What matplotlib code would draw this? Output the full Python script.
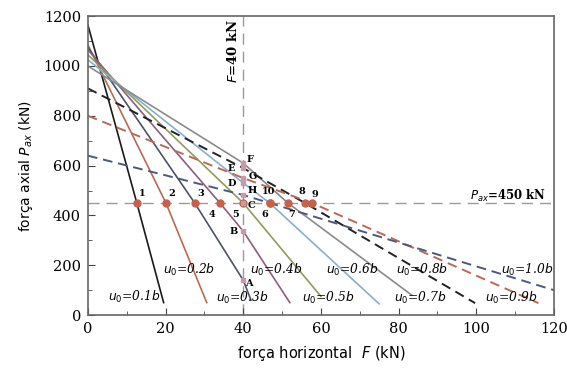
import matplotlib
matplotlib.use("Agg")
import matplotlib.pyplot as plt
from matplotlib.ticker import MultipleLocator

# curves (F in kN, P_ax in kN)
labels = ["0.1b", "0.2b", "0.3b", "0.4b", "0.5b", "0.6b", "0.7b", "0.8b", "0.9b", "1.0b"]
curve_F = [
    [0, 12.6, 19.5],
    [0, 20.1, 30.6],
    [0, 27.5, 40, 42],
    [0, 34, 40, 52],
    [0, 40, 60],
    [0, 40, 46.8, 75],
    [0, 40, 51.5, 83.4],
    [0, 40, 55.9, 99.7],
    [0, 40, 57.7, 116],
    [0, 40, 46.8, 120],
]
curve_P = [
    [1165, 450, 50],
    [1085, 450, 50],
    [1075, 450, 140, 60],
    [1065, 450, 337, 50],
    [1045, 450, 75],
    [1025, 530, 450, 45],
    [1000, 610, 450, 80],
    [910, 590, 450, 48],
    [800, 550, 450, 48],
    [640, 482, 450, 100],
]
colors = ["#1a1a1a", "#b86a52", "#4c5268", "#8c5f7c", "#8e9c5c",
          "#86b0cc", "#8a8a8a", "#222222", "#b86a52", "#4e587a"]
dashed = [False] * 7 + [True] * 3

# u0 label positions
lab_F = [12, 26, 39.7, 48.6, 62, 68, 85.5, 86, 109, 113]
lab_P = [72, 180, 68, 180, 68, 180, 68, 180, 68, 180]

# points on P_ax = 450
pt_names = ["1", "2", "3", "4", "5", "6", "7", "8", "9", "10"]
pt_F = [12.6, 20.1, 27.5, 34, 40, 46.8, 51.5, 55.9, 57.7, 46.8]
pt_lab_F = [14.0, 21.5, 29.0, 32.0, 38.0, 45.5, 52.5, 55.0, 58.5, 46.5]
pt_lab_P = [490, 490, 490, 405, 405, 405, 405, 495, 485, 495]

# points on F = 40
let_names = ["A", "B", "C", "D", "E", "F", "G", "H"]
let_P = [140, 337, 450, 530, 590, 610, 550, 482]
let_lab_F = [41.5, 37.5, 42.0, 37.0, 37.0, 41.8, 42.5, 42.3]
let_lab_P = [125, 335, 440, 530, 590, 625, 558, 500]

F_ref = 40
P_ref = 450

fig = plt.figure(figsize=(5.67, 3.76), dpi=100)
ax = fig.add_axes([0.155, 0.162, 0.822, 0.795])

ax.axvline(F_ref, color="#9a9a9a", lw=1.0, ls=(0, (8, 5)), zorder=1)
ax.axhline(P_ref, color="#9a9a9a", lw=1.0, ls=(0, (8, 5)), zorder=1)

for i in range(len(labels)):
    ls = (0, (5, 3)) if dashed[i] else "-"
    lw = 1.4 if dashed[i] else 1.2
    ax.plot(curve_F[i], curve_P[i], color=colors[i], lw=lw, ls=ls, zorder=2)
    ax.text(lab_F[i], lab_P[i], "$u_0$=" + labels[i][:3] + "$b$", fontsize=8.8,
            family="DejaVu Serif", style="italic", ha="center", va="center", zorder=4)

ax.plot(pt_F, [P_ref] * len(pt_F), "o", color="#c8604a", ms=5, zorder=3)
for name, x, y in zip(pt_names, pt_lab_F, pt_lab_P):
    ax.text(x, y, name, fontsize=7, family="DejaVu Serif", fontweight="bold",
            ha="center", va="center", zorder=4)

ax.plot([F_ref] * len(let_P), let_P, "s", color="#c89aa8", ms=3, zorder=3)
for name, x, y in zip(let_names, let_lab_F, let_lab_P):
    ax.text(x, y, name, fontsize=7, family="DejaVu Serif", fontweight="bold",
            ha="center", va="center", zorder=4)

ax.text(37.3, 1060, "$F$=40 kN", rotation=90, fontsize=9.5, family="DejaVu Serif",
        fontweight="bold", ha="center", va="center")
ax.text(118, 480, "$P_{ax}$=450 kN", fontsize=8.5, family="DejaVu Serif",
        fontweight="bold", ha="right", va="center")

ax.set_xlim(0, 120)
ax.set_ylim(0, 1200)
ax.xaxis.set_major_locator(MultipleLocator(20))
ax.xaxis.set_minor_locator(MultipleLocator(10))
ax.yaxis.set_major_locator(MultipleLocator(200))
ax.yaxis.set_minor_locator(MultipleLocator(100))
ax.tick_params(which="both", direction="in", color="#444444")
ax.tick_params(which="major", length=5, labelsize=10.5, pad=5)
ax.tick_params(which="minor", length=3)
for lbl in ax.get_xticklabels() + ax.get_yticklabels():
    lbl.set_family("DejaVu Serif")
for s in ax.spines.values():
    s.set_color("#666666")
    s.set_linewidth(1.2)

ax.set_xlabel("força horizontal  $F$ (kN)", fontsize=10.5, labelpad=6)
ax.set_ylabel("força axial $P_{ax}$ (kN)", fontsize=10, labelpad=6)

fig.savefig("out.png", dpi=100)
